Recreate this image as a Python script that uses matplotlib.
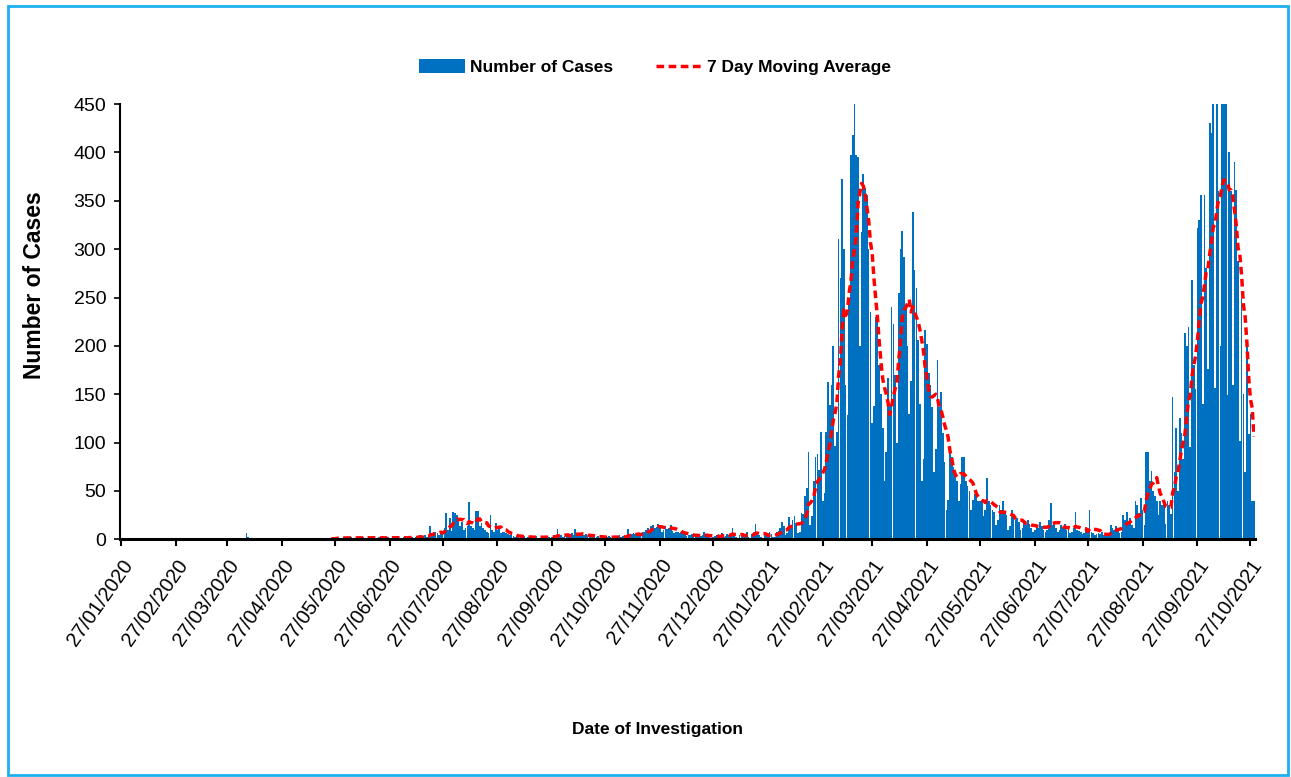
import numpy as np
import pandas as pd
import matplotlib
matplotlib.use("Agg")
import matplotlib.pyplot as plt
import matplotlib.dates as mdates
from matplotlib.patches import Rectangle

# daily cases, weeks start on Monday, 27/01/2020 .. 03/01/2021
cases_2020 = [
    0, 0, 0, 0, 0, 0, 0,  # 27/01
    0, 0, 0, 0, 0, 0, 0,
    0, 0, 0, 0, 0, 0, 0,
    0, 0, 0, 0, 0, 0, 0,
    0, 0, 0, 0, 0, 0, 0,  # 24/02
    0, 0, 0, 0, 0, 0, 0,
    0, 1, 0, 0, 0, 1, 0,
    0, 0, 0, 0, 0, 0, 0,
    0, 0, 0, 0, 0, 0, 0,  # 23/03
    1, 0, 0, 0, 0, 0, 0,
    0, 6, 2, 0, 0, 0, 0,
    0, 0, 0, 0, 1, 0, 0,
    0, 0, 0, 0, 0, 0, 0,  # 20/04
    0, 0, 0, 0, 0, 0, 0,
    0, 0, 0, 0, 0, 0, 0,
    0, 0, 0, 0, 0, 0, 0,
    0, 0, 0, 0, 0, 0, 0,  # 18/05
    1, 2, 1, 2, 1, 1, 1,
    2, 1, 2, 1, 2, 1, 1,
    1, 2, 2, 1, 2, 1, 1,
    2, 1, 2, 2, 1, 1, 2,  # 15/06
    1, 2, 1, 2, 2, 1, 1,
    2, 2, 1, 2, 1, 1, 2,
    2, 1, 3, 2, 2, 1, 2,
    3, 4, 2, 3, 4, 2, 3,  # 13/07
    14, 5, 7, 8, 6, 4, 7,
    8, 12, 27, 10, 22, 9, 28,
    27, 25, 20, 14, 18, 10, 12,
    14, 39, 14, 12, 10, 29, 29,  # 10/08
    14, 17, 12, 10, 8, 6, 25,
    10, 8, 17, 10, 12, 6, 8,
    8, 6, 5, 4, 5, 3, 2,
    3, 2, 4, 2, 3, 1, 2,  # 07/09
    2, 3, 2, 2, 3, 1, 1,
    3, 2, 3, 2, 2, 1, 2,
    4, 3, 11, 3, 4, 2, 3,
    4, 5, 3, 6, 4, 11, 3,  # 05/10
    5, 4, 6, 4, 5, 2, 3,
    3, 4, 3, 2, 3, 1, 2,
    2, 3, 2, 3, 2, 1, 2,
    3, 2, 4, 2, 3, 1, 2,  # 02/11
    11, 4, 5, 6, 5, 3, 4,
    6, 7, 8, 10, 12, 9, 14,
    15, 12, 13, 16, 12, 8, 10,
    14, 11, 12, 15, 9, 6, 8,  # 30/11
    8, 6, 7, 5, 6, 3, 4,
    4, 5, 3, 4, 5, 2, 3,
    4, 8, 3, 4, 2, 1, 2,
    3, 4, 5, 3, 6, 2, 3,  # 28/12
]

# 04/01/2021 .. 29/10/2021
cases_2021 = [
    5, 4, 6, 12, 3, 2, 1,  # 04/01
    4, 6, 5, 3, 8, 2, 1,
    5, 7, 16, 6, 4, 2, 1,
    5, 4, 6, 7, 5, 2, 2,
    7, 9, 12, 18, 14, 4, 6,  # 01/02
    23, 15, 20, 24, 17, 6, 7,
    27, 26, 45, 53, 90, 15, 24,
    60, 85, 88, 72, 111, 40, 48,
    111, 163, 139, 160, 200, 96, 111,  # 01/03
    311, 270, 373, 300, 159, 128, 244,
    397, 418, 451, 397, 395, 200, 318,
    378, 363, 356, 300, 235, 120, 138,
    230, 225, 180, 150, 115, 60, 90,  # 29/03
    167, 140, 240, 223, 170, 100, 255,
    300, 319, 292, 240, 200, 130, 164,
    338, 278, 260, 206, 140, 60, 83,
    216, 202, 172, 160, 137, 70, 93,  # 26/04
    185, 137, 152, 110, 80, 30, 41,
    89, 85, 75, 70, 60, 40, 57,
    85, 85, 60, 55, 50, 30, 41,
    47, 45, 40, 40, 40, 24, 30,  # 24/05
    63, 40, 35, 30, 28, 15, 20,
    35, 30, 40, 28, 25, 10, 14,
    30, 25, 20, 22, 18, 10, 12,
    18, 15, 20, 16, 12, 8, 10,  # 21/06
    15, 12, 18, 14, 10, 8, 10,
    20, 37, 15, 18, 12, 8, 10,
    15, 12, 16, 10, 14, 6, 8,
    12, 28, 10, 9, 8, 5, 6,  # 19/07
    10, 8, 30, 7, 6, 4, 5,
    6, 5, 7, 4, 5, 3, 4,
    15, 12, 10, 14, 12, 6, 8,
    25, 20, 28, 18, 22, 15, 12,  # 16/08
    40, 35, 27, 43, 30, 15, 90,
    90, 60, 71, 50, 45, 40, 25,
    40, 35, 38, 16, 40, 35, 26,
    147, 70, 115, 50, 125, 110, 83,  # 13/09
    213, 200, 220, 95, 268, 180, 155,
    322, 330, 356, 140, 356, 280, 176,
    430, 420, 460, 156, 460, 360, 200,
    500, 465, 455, 149, 400, 360, 160,  # 11/10
    390, 361, 288, 102, 250, 150, 70,
    203, 109, 130, 40, 40,
]

cases = np.array(cases_2020 + cases_2021, dtype=float)
dates = pd.date_range("2020-01-27", periods=len(cases), freq="D")

ma = pd.Series(cases, index=dates).rolling(7, min_periods=1).mean()
ma[dates < "2020-05-25"] = np.nan

font = ["Liberation Sans", "DejaVu Sans"]

fig = plt.figure(figsize=(12.91, 7.77), dpi=100)
ax = fig.add_axes([0.093, 0.306, 0.879, 0.560])

bars = ax.bar(dates, cases, width=0.95, color="#0070C0", linewidth=0)
line, = ax.plot(dates, ma, color="#FF0000", lw=2.5, ls=(0, (2.2, 1.3)))

ax.set_ylim(0, 450)
ax.set_yticks(np.arange(0, 451, 50))
ax.set_xlim(dates[0] - pd.Timedelta(hours=12), dates[-1] + pd.Timedelta(hours=12))
ax.xaxis.set_major_locator(mdates.DayLocator(bymonthday=27))
ax.xaxis.set_major_formatter(mdates.DateFormatter("%d/%m/%Y"))

for s in ["top", "right"]:
    ax.spines[s].set_visible(False)
ax.spines["left"].set_linewidth(1.5)
ax.spines["bottom"].set_linewidth(2.2)
ax.tick_params(axis="x", direction="out", length=5, width=1.5, pad=7)
ax.tick_params(axis="y", direction="out", length=4, width=1.2, pad=6)

for lab in ax.get_yticklabels():
    lab.set_family(font)
    lab.set_fontsize(14)
for lab in ax.get_xticklabels():
    lab.set_family(font)
    lab.set_fontsize(14.5)
    lab.set_rotation(55)
    lab.set_ha("right")
    lab.set_va("top")
    lab.set_rotation_mode("anchor")

ax.set_ylabel("Number of Cases", family=font, fontsize=16.5, fontweight="bold")
ax.yaxis.set_label_coords(-0.0655, 0.584)
ax.set_xlabel("Date of Investigation", family=font, fontsize=12.5, fontweight="bold")
ax.xaxis.set_label_coords(0.474, -0.42)

fig.legend([bars, line], ["Number of Cases", "7 Day Moving Average"],
           loc="center", bbox_to_anchor=(655 / 1291, 1 - 67 / 777), ncol=2, frameon=False,
           prop={"family": font, "size": 12.5, "weight": "bold"},
           handlelength=2.6, handleheight=0.85, columnspacing=2.5, handletextpad=0.3)

fig.patches.append(Rectangle((0.006, 0.003), 0.9915, 0.989, transform=fig.transFigure,
                             fill=False, edgecolor="#1CB0EE", lw=2))

fig.savefig("out.png", dpi=100)
